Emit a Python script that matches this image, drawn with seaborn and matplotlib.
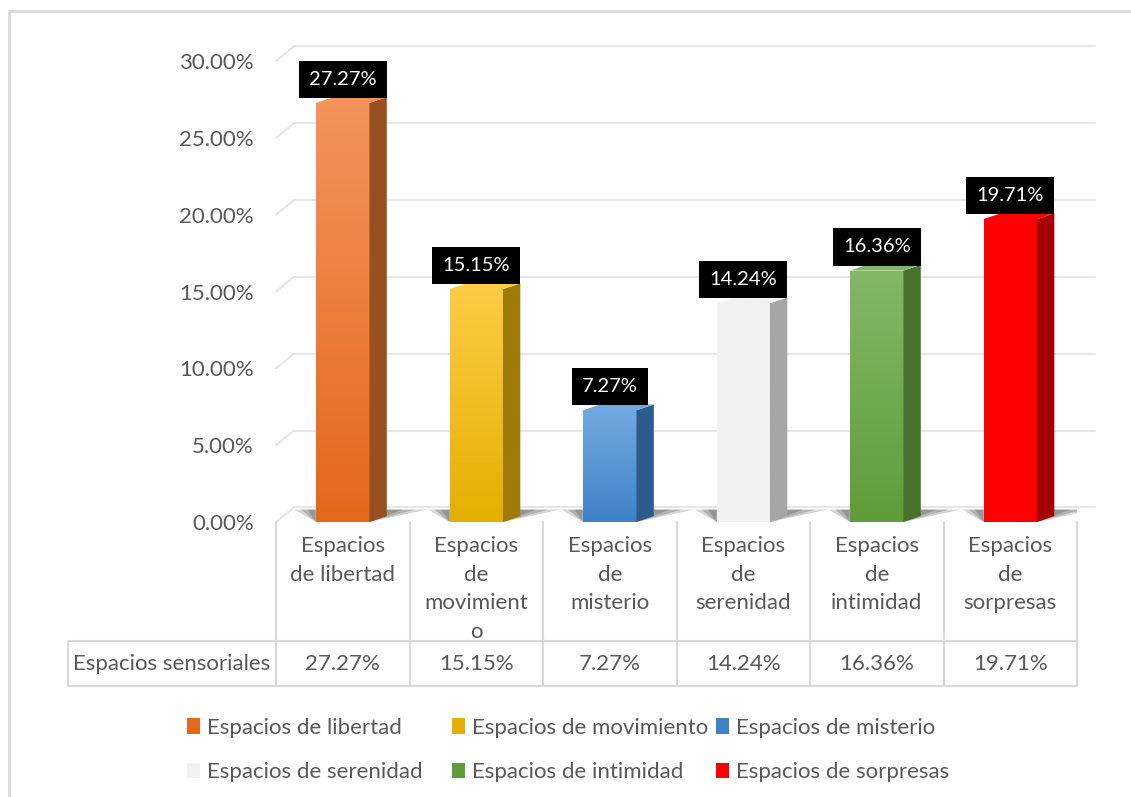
import numpy as np
import pandas as pd
import seaborn as sns
import matplotlib.pyplot as plt
from matplotlib.patches import Polygon, Rectangle
from matplotlib.colors import LinearSegmentedColormap
import matplotlib.transforms as mtransforms

categories = ['Espacios de libertad', 'Espacios de movimiento', 'Espacios de misterio',
              'Espacios de serenidad', 'Espacios de intimidad', 'Espacios de sorpresas']
tick_labels = ['Espacios\nde libertad', 'Espacios\nde\nmovimient\no', 'Espacios\nde\nmisterio',
               'Espacios\nde\nserenidad', 'Espacios\nde\nintimidad', 'Espacios\nde\nsorpresas']
values = [27.27, 15.15, 7.27, 14.24, 16.36, 19.71]
row_name = 'Espacios sensoriales'
yticks = [0, 5, 10, 15, 20, 25, 30]

# front gradient (top, bottom) and side colour for each bar
front_top = ['#F4935C', '#FFCB45', '#72A8DF', '#F2F2F2', '#82B868', '#FF0000']
front_bot = ['#E3681B', '#E5AF00', '#3E83C7', '#F2F2F2', '#5F9D38', '#FF0000']
side_col = ['#97501F', '#9E7A08', '#2C5C8E', '#A6A6A6', '#47722E', '#A30000']

sns.set_theme(style='white')
plt.rcParams['font.family'] = ['Lato', 'DejaVu Sans']
txt = '#595959'
grid_c = '#E6E6E6'
fs = 16

df = pd.DataFrame({'cat': categories, 'val': values})

fig = plt.figure(figsize=(11.31, 7.97), dpi=100)
W, H = 1131, 797
ax = fig.add_axes([276 / W, 1 - 522 / H, (1077 - 276) / W, (522 - 61) / H])

sns.barplot(data=df, x='cat', y='val', hue='cat', palette=front_bot, width=0.4,
            legend=False, ax=ax, zorder=3)

# 3D offsets in data units
bdx, bdy = 0.135, 0.95   # back wall offset
sdx, sdy = 0.13, 0.38    # bar depth

# back-wall gridlines plus slanted left edge
for v in yticks:
    ax.plot([-0.5 + bdx, 5.5 + bdx], [v + bdy, v + bdy], color=grid_c, lw=1.5,
            zorder=1, clip_on=False)
    ax.plot([-0.5, -0.5 + bdx], [v, v + bdy], color=grid_c, lw=1.5, zorder=1, clip_on=False)

for i, p in enumerate(ax.patches):
    x0, w, h = p.get_x(), p.get_width(), p.get_height()
    x1 = x0 + w
    # soft floor shadow
    for k, f in enumerate([1.0, 0.7, 0.4]):
        ax.add_patch(Polygon([(x0 - 0.16 * f, bdy * 0.85), (x0, 0), (x1, 0),
                              (x1 + sdx + 0.3 * f, bdy * 0.85), (x1 + sdx, bdy * 0.85)],
                             closed=True, fc='#2a2a2a', ec='none', alpha=0.2, zorder=2))
    # front gradient
    cmap = LinearSegmentedColormap.from_list('g%d' % i, [front_bot[i], front_top[i]])
    grad = np.linspace(0, 1, 100).reshape(-1, 1)
    im = ax.imshow(grad, cmap=cmap, origin='lower', extent=[x0, x1, 0, h], aspect='auto',
                   zorder=4)
    im.set_clip_path(p)
    # side face
    ax.add_patch(Polygon([(x1, 0), (x1 + sdx, sdy), (x1 + sdx, h + sdy), (x1, h)], closed=True,
                         fc=side_col[i], ec='none', zorder=4))
    # top face
    ax.add_patch(Polygon([(x0, h), (x0 + sdx, h + sdy), (x1 + sdx, h + sdy), (x1, h)], closed=True,
                         fc=front_top[i], ec='none', zorder=4))
    # data label
    ax.annotate('%.2f%%' % values[i], (x0 + w / 2, h), xytext=(0, 17), textcoords='offset points',
                ha='center', va='center', color='white', fontsize=14.5, zorder=6,
                bbox=dict(boxstyle='square,pad=0.5', fc='black', ec='none'))

ax.set_xlim(-0.5, 5.5)
ax.set_ylim(0, 30)
ax.set_yticks(yticks)
ax.set_yticklabels(['%.2f%%' % v for v in yticks], color=txt, fontsize=fs)
ax.tick_params(axis='y', pad=16, length=0)
ax.set_xticks([])
ax.set_xlabel('')
ax.set_ylabel('')
for s in ax.spines.values():
    s.set_visible(False)

# data table below the axis
tr = mtransforms.blended_transform_factory(ax.transData, ax.transAxes)
r1 = -(641 - 522) / (522 - 61)
r2 = -(686 - 522) / (522 - 61)
xh = -0.5 - (276 - 68) / 133.5
tab_c = '#D9D9D9'
for k in range(7):
    ax.plot([k - 0.5, k - 0.5], [0, r2], color=tab_c, lw=1.5, transform=tr, clip_on=False)
ax.plot([xh, xh], [r1, r2], color=tab_c, lw=1.5, transform=tr, clip_on=False)
ax.plot([xh, 5.5], [r1, r1], color=tab_c, lw=1.5, transform=tr, clip_on=False)
ax.plot([xh, 5.5], [r2, r2], color=tab_c, lw=1.5, transform=tr, clip_on=False)
for k, lab in enumerate(tick_labels):
    ax.text(k, -0.03, lab, transform=tr, ha='center', va='top', color=txt, fontsize=fs,
            linespacing=1.55)
    ax.text(k, (r1 + r2) / 2, '%.2f%%' % values[k], transform=tr, ha='center', va='center',
            color=txt, fontsize=fs)
ax.text((xh - 0.5) / 2, (r1 + r2) / 2, row_name, transform=tr, ha='center', va='center',
        color=txt, fontsize=fs)

# legend: three equal-width columns, each a small legend of two rows
col_x = [187, 452, 716]
for c in range(3):
    idx = [c, c + 3]
    handles = [Rectangle((0, 0), 1, 1, fc=front_bot[i], ec='none') for i in idx]
    fig.legend(handles, [categories[i] for i in idx], loc='upper left',
               bbox_to_anchor=(col_x[c] / W, 1 - 718 / H), frameon=False, fontsize=fs,
               labelcolor=txt, handlelength=0.6, handleheight=0.7, handletextpad=0.3,
               labelspacing=1.1, borderpad=0, borderaxespad=0)

# chart border
fig.patches.append(Rectangle((9 / W, -0.1), 1.2, 1 - 11 / H + 0.1, transform=fig.transFigure,
                             fill=False, ec='#D9D9D9', lw=2))

fig.savefig('out.png', dpi=100)
